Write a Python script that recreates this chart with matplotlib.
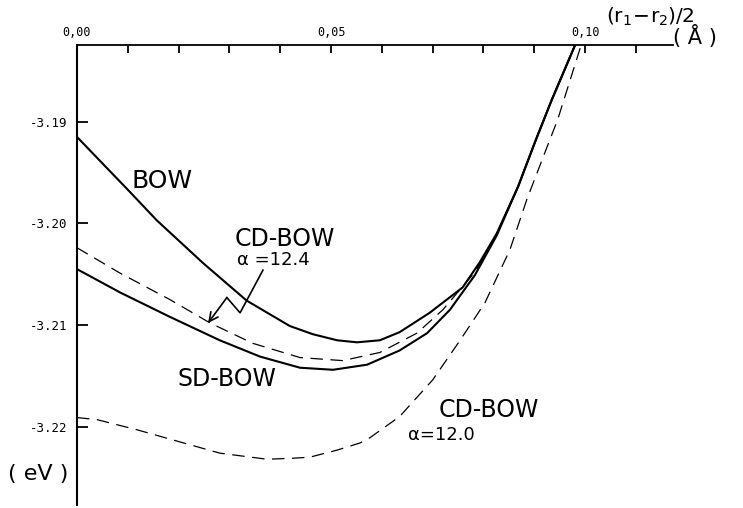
import matplotlib
matplotlib.use('Agg')
import matplotlib.pyplot as plt

plt.rcParams['mathtext.fontset'] = 'dejavusans'

# curves: (r1-r2)/2 in Angstrom vs energy in eV
bow_x = [0.0, 0.0104, 0.0157, 0.0183, 0.0248, 0.0334, 0.0419, 0.0464, 0.0512, 0.0551, 0.0596,
         0.0635, 0.0694, 0.0759, 0.0793, 0.0826, 0.0868, 0.0903, 0.0934, 0.0980]
bow_y = [-3.1915, -3.1969, -3.1997, -3.2009, -3.2039, -3.2076, -3.2101, -3.2109, -3.2115, -3.2117, -3.2115,
         -3.2107, -3.2088, -3.2063, -3.2038, -3.2010, -3.1964, -3.1918, -3.1879, -3.1825]

sd_x = [0.0, 0.0085, 0.0183, 0.0281, 0.0360, 0.0439, 0.0504, 0.0571, 0.0635,
        0.0689, 0.0734, 0.0783, 0.0826, 0.0868, 0.0903, 0.0934, 0.0980]
sd_y = [-3.2045, -3.2068, -3.2092, -3.2115, -3.2131, -3.2142, -3.2144, -3.2139, -3.2125,
        -3.2108, -3.2085, -3.2051, -3.2012, -3.1964, -3.1918, -3.1879, -3.1825]

cd124_x = [0.0, 0.0085, 0.0183, 0.0262, 0.0346, 0.0439, 0.0523, 0.0596, 0.0669,
           0.0720, 0.0783, 0.0826, 0.0868, 0.0903, 0.0934, 0.0980]
cd124_y = [-3.2024, -3.2049, -3.2075, -3.2098, -3.2118, -3.2132, -3.2135, -3.2127, -3.2108,
           -3.2085, -3.2048, -3.2011, -3.1964, -3.1918, -3.1879, -3.1825]

cd120_x = [0.0, 0.0039, 0.0118, 0.0203, 0.0281, 0.0374, 0.0425, 0.0458, 0.0512, 0.0557,
           0.0576, 0.0635, 0.0700, 0.0754, 0.0803, 0.0852, 0.0885, 0.0925, 0.0946, 0.0992]
cd120_y = [-3.2191, -3.2193, -3.2203, -3.2215, -3.2226, -3.2232, -3.2231, -3.2230, -3.2223, -3.2216,
           -3.2211, -3.2190, -3.2154, -3.2115, -3.2078, -3.2026, -3.1977, -3.1925, -3.1898, -3.1825]

x_major = [0.0, 0.05, 0.10]
x_major_labels = ['0,00', '0,05', '0,10']
x_minor = [0.01, 0.02, 0.03, 0.04, 0.06, 0.07, 0.08, 0.09, 0.11]
y_ticks = [-3.19, -3.20, -3.21, -3.22]
y_labels = ['-3.19', '-3.20', '-3.21', '-3.22']

fig = plt.figure(figsize=(7.43, 5.08), dpi=100)
ax = fig.add_axes([0.1036, 0.0059, 0.8022, 0.9055])

ax.plot(bow_x, bow_y, color='black', lw=1.5)
ax.plot(sd_x, sd_y, color='black', lw=1.5)
ax.plot(cd124_x, cd124_y, color='black', lw=0.9, dashes=(10, 6))
ax.plot(cd120_x, cd120_y, color='black', lw=0.9, dashes=(10, 6))

ax.set_xlim(0, 0.1173)
ax.set_ylim(-3.2277, -3.18246)

# axes: only top and left lines
ax.spines['right'].set_visible(False)
ax.spines['bottom'].set_visible(False)
ax.spines['top'].set_linewidth(1.3)
ax.spines['left'].set_linewidth(1.5)
ax.xaxis.tick_top()
ax.set_xticks(x_major)
ax.set_xticklabels(x_major_labels, family='DejaVu Sans Mono', fontsize=8.5)
ax.set_xticks(x_minor, minor=True)
ax.tick_params(axis='x', which='both', direction='in', length=6, width=1.3, pad=4)
ax.set_yticks(y_ticks)
ax.set_yticklabels(y_labels, family='DejaVu Sans Mono', fontsize=9)
ax.tick_params(axis='y', direction='in', length=8, width=1.3, pad=7)

# curve labels
ax.text(0.0108, -3.1965, 'BOW', fontsize=18)
ax.text(0.0311, -3.2022, 'CD-BOW', fontsize=17)
ax.text(0.0315, -3.2041, 'α =12.4', fontsize=13)
ax.text(0.0197, -3.2160, 'SD-BOW', fontsize=17)
ax.text(0.0712, -3.2190, 'CD-BOW', fontsize=17)
ax.text(0.0651, -3.2213, 'α=12.0', fontsize=13)

# zigzag pointer to the alpha=12.4 curve
ax.plot([0.0366, 0.0321, 0.0295], [-3.2046, -3.2088, -3.2073], color='black', lw=1.2)
ax.annotate('', xy=(0.0258, -3.2098), xytext=(0.0295, -3.2073),
            arrowprops=dict(arrowstyle='->', color='black', lw=1.2, mutation_scale=16,
                            shrinkA=0, shrinkB=0))

fig.text(0.815, 0.956, r'$(\mathrm{r}_1\!-\!\mathrm{r}_2)/2$', fontsize=14.5)
fig.text(0.906, 0.913, '( Å )', fontsize=15)
fig.text(0.0108, 0.055, '( eV )', fontsize=16)

fig.savefig('out.png', dpi=100)
